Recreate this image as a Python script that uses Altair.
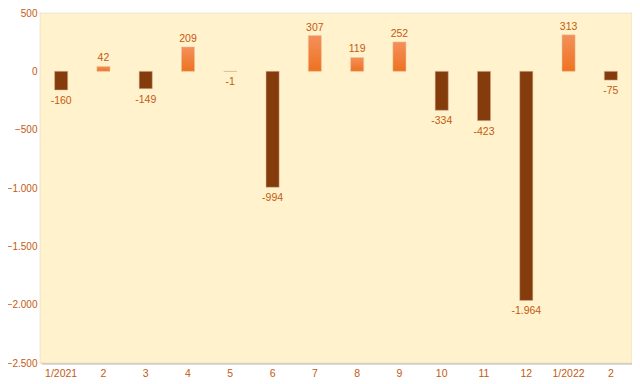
import altair as alt
import pandas as pd

months = ["1/2021", "2", "3", "4", "5", "6", "7", "8", "9", "10", "11", "12", "1/2022", "2 "]
values = [-160, 42, -149, 209, -1, -994, 307, 119, 252, -334, -423, -1964, 313, -75]

df = pd.DataFrame({"month": months, "value": values})
df["lbl"] = df["value"].apply(lambda v: f"{v:,}".replace(",", "."))

FONT = "Liberation Sans, DejaVu Sans"
orange_text = "#C55A11"
W, H = 592, 350

xenc = alt.X("month:N", sort=months, title=None,
             scale=alt.Scale(paddingInner=0.69, paddingOuter=0.345),
             axis=alt.Axis(labelColor=orange_text, labelFontSize=10.5, labelFont=FONT,
                           ticks=False, domain=False, labelPadding=5, labelAngle=0,
                           labelExpr="trim(datum.label)"))
yscale = alt.Scale(domain=[-2500, 500], nice=False, zero=False)
yenc = alt.Y("value:Q", scale=yscale, title=None,
             axis=alt.Axis(values=[-2500, -2000, -1500, -1000, -500, 0, 500],
                           labelExpr="replace(format(datum.value, ','), ',', '.')",
                           labelColor=orange_text, labelFontSize=10, labelFont=FONT,
                           ticks=False, domain=False, labelPadding=3,
                           grid=True, gridColor="#EFE0BE", gridWidth=1))

base = alt.Chart(df)

bg = alt.Chart(pd.DataFrame({"a": [0]})).mark_rect(color="#FFF2CC", stroke="#D6D0C0", strokeWidth=0.5).encode(
    x=alt.value(0), x2=alt.value(W), y=alt.value(0), y2=alt.value(H))
shadow = alt.Chart(pd.DataFrame({"a": [0]})).mark_rect(color="#BFBFBF", opacity=0.6).encode(
    x=alt.value(2), x2=alt.value(W + 2), y=alt.value(2), y2=alt.value(H + 2))

grad = alt.Gradient(gradient="linear", x1=0, y1=0, x2=0, y2=1,
                    stops=[alt.GradientStop(color="#F4905A", offset=0),
                           alt.GradientStop(color="#EE7220", offset=1)])

pos = base.transform_filter("datum.value >= 0").mark_bar(color=grad, stroke="#E8C9A8", strokeWidth=0.5).encode(
    x=xenc, y=yenc, y2=alt.datum(0))
neg = base.transform_filter("datum.value < 0").mark_bar(color="#843C0C", stroke="#D9B89A", strokeWidth=0.5).encode(
    x=xenc, y=yenc, y2=alt.datum(0))

pos_txt = base.transform_filter("datum.value >= 0").mark_text(
    dy=-8, color=orange_text, fontSize=10.5, font=FONT).encode(
    x=xenc, y=yenc, text="lbl:N")
neg_txt = base.transform_filter("datum.value < 0").mark_text(
    dy=11, color=orange_text, fontSize=10.5, font=FONT).encode(
    x=xenc, y=yenc, text="lbl:N")

chart = alt.layer(shadow, bg, pos, neg, pos_txt, neg_txt).properties(
    width=W, height=H,
    autosize=alt.AutoSizeParams(type="none"),
    padding={"left": 32, "top": 5, "right": 0, "bottom": 17},
    background="white",
).configure_view(stroke=None)

chart.save("out.html", embed_options={"renderer": "svg", "actions": False})
